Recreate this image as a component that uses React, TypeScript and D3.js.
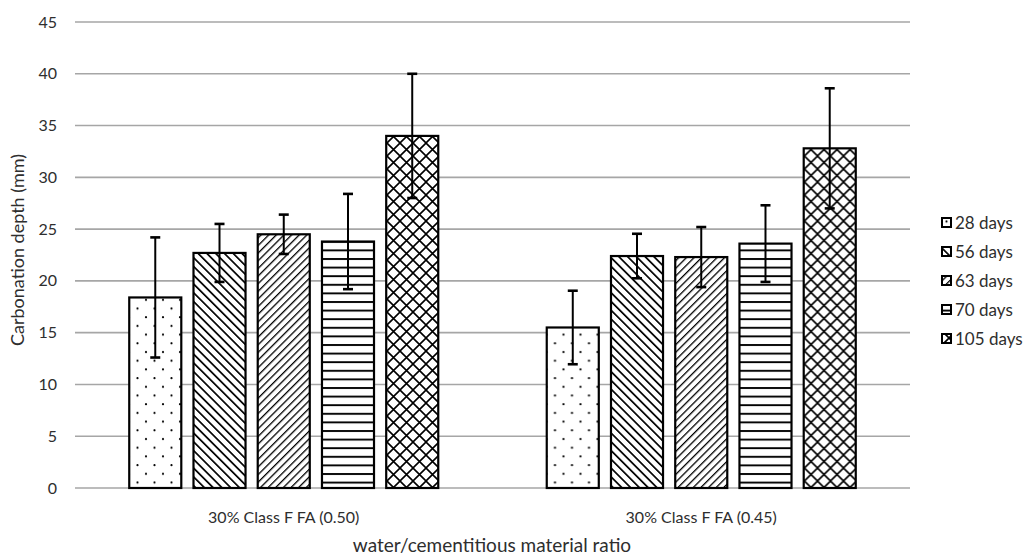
import React from "react";
import * as d3 from "d3";

// Carbonation depth by curing age for two fly-ash mixes
const categories = ["30% Class F FA (0.50)", "30% Class F FA (0.45)"];
const ages = ["28 days", "56 days", "63 days", "70 days", "105 days"];
const depthW50 = [18.4, 22.7, 24.5, 23.8, 34.0];
const errW50 = [5.8, 2.8, 1.9, 4.6, 6.0];
const depthW45 = [15.5, 22.4, 22.3, 23.6, 32.8];
const errW45 = [3.55, 2.15, 2.9, 3.7, 5.8];
const yTicks = [0, 5, 10, 15, 20, 25, 30, 35, 40, 45];

const W = 1031;
const H = 557;
const FONT = "Lato, 'Open Sans', sans-serif";
const TEXT = "#2e2e2e";

const series = [depthW50, depthW45];
const errors = [errW50, errW45];

const patternIds = ["pDots", "pDown", "pUp", "pHoriz", "pDiamond"];

function Patterns() {
  return (
    <defs>
      <pattern id="pDots" width={17} height={17.4} patternUnits="userSpaceOnUse">
        <rect width={17} height={17.4} fill="#fff" />
        <circle cx={3} cy={4} r={1.1} fill="#000" />
        <circle cx={11.5} cy={12.7} r={1.1} fill="#000" />
      </pattern>
      <pattern id="pDown" width={6.2} height={6.2} patternUnits="userSpaceOnUse" patternTransform="rotate(-45)">
        <rect width={6.2} height={6.2} fill="#fff" />
        <line x1={0} y1={0} x2={0} y2={6.2} stroke="#000" strokeWidth={3.4} />
      </pattern>
      <pattern id="pUp" width={5.4} height={5.4} patternUnits="userSpaceOnUse" patternTransform="rotate(45)">
        <rect width={5.4} height={5.4} fill="#fff" />
        <line x1={0} y1={0} x2={0} y2={5.4} stroke="#000" strokeWidth={2.6} />
      </pattern>
      <pattern id="pHoriz" width={10} height={8.6} patternUnits="userSpaceOnUse">
        <rect width={10} height={8.6} fill="#fff" />
        <line x1={0} y1={1} x2={10} y2={1} stroke="#000" strokeWidth={1.9} />
      </pattern>
      <pattern id="pDiamond" width={13} height={13} patternUnits="userSpaceOnUse">
        <rect width={13} height={13} fill="#fff" />
        <path d="M0,0L13,13M13,0L0,13" stroke="#000" strokeWidth={1.6} />
      </pattern>
    </defs>
  );
}

export default function App() {
  const left = 75;
  const right = 910;
  const top = 22;
  const bottom = 488;

  const y = d3.scaleLinear().domain([0, 45]).range([bottom, top]);
  const x = d3.scaleBand<string>().domain(categories).range([left, right]).padding(0);
  const groupW = 309;
  const inner = d3
    .scaleBand<string>()
    .domain(ages)
    .range([(x.bandwidth() - groupW) / 2, (x.bandwidth() + groupW) / 2])
    .paddingInner(0.19)
    .paddingOuter(0);

  return (
    <svg width={W} height={H} style={{ position: "absolute", left: 0, top: 0, background: "#fff" }}>
      <Patterns />
      {/* horizontal gridlines and y tick labels */}
      {yTicks.map((t) => (
        <g key={t}>
          <line x1={left} x2={right} y1={y(t)} y2={y(t)} stroke="#a6a6a6" strokeWidth={1.6} />
          <text x={57} y={y(t)} dy="0.35em" textAnchor="end" fontFamily={FONT} fontSize={16} fill={TEXT}>
            {t}
          </text>
        </g>
      ))}

      {/* bars */}
      {categories.map((c, ci) => (
        <g key={c} transform={`translate(${x(c)},0)`}>
          {ages.map((a, ai) => {
            const v = series[ci][ai];
            const bx = inner(a)!;
            return (
              <rect
                key={a}
                x={bx}
                y={y(v)}
                width={inner.bandwidth()}
                height={y(0) - y(v)}
                fill={`url(#${patternIds[ai]})`}
                stroke="#000"
                strokeWidth={2.2}
              />
            );
          })}
          {ages.map((a, ai) => {
            const v = series[ci][ai];
            const e = errors[ci][ai];
            const cx = inner(a)! + inner.bandwidth() / 2;
            return (
              <g key={a + "err"} stroke="#000">
                <line x1={cx} x2={cx} y1={y(v + e)} y2={y(v - e)} strokeWidth={2} />
                <line x1={cx - 5} x2={cx + 5} y1={y(v + e)} y2={y(v + e)} strokeWidth={2.6} />
                <line x1={cx - 5} x2={cx + 5} y1={y(v - e)} y2={y(v - e)} strokeWidth={2.6} />
              </g>
            );
          })}
        </g>
      ))}

      {/* category labels */}
      {categories.map((c) => (
        <text
          key={c}
          x={x(c)! + x.bandwidth() / 2}
          y={523}
          textAnchor="middle"
          fontFamily={FONT}
          fontSize={16}
          fill={TEXT}
        >
          {c}
        </text>
      ))}

      {/* axis titles */}
      <text x={492} y={552} textAnchor="middle" fontFamily={FONT} fontSize={19} fill={TEXT}>
        water/cementitious material ratio
      </text>
      <text
        transform={`translate(24,250) rotate(-90)`}
        textAnchor="middle"
        fontFamily={FONT}
        fontSize={18}
        fill={TEXT}
      >
        Carbonation depth (mm)
      </text>

      {/* legend */}
      {ages.map((a, ai) => {
        const ly = 223 + ai * 29;
        return (
          <g key={a}>
            <rect x={942} y={ly - 5} width={9} height={9} fill={`url(#${patternIds[ai]})`} stroke="#000" strokeWidth={2} />
            <text x={955} y={ly} dy="0.35em" fontFamily={FONT} fontSize={17} fill={TEXT}>
              {a}
            </text>
          </g>
        );
      })}
    </svg>
  );
}
